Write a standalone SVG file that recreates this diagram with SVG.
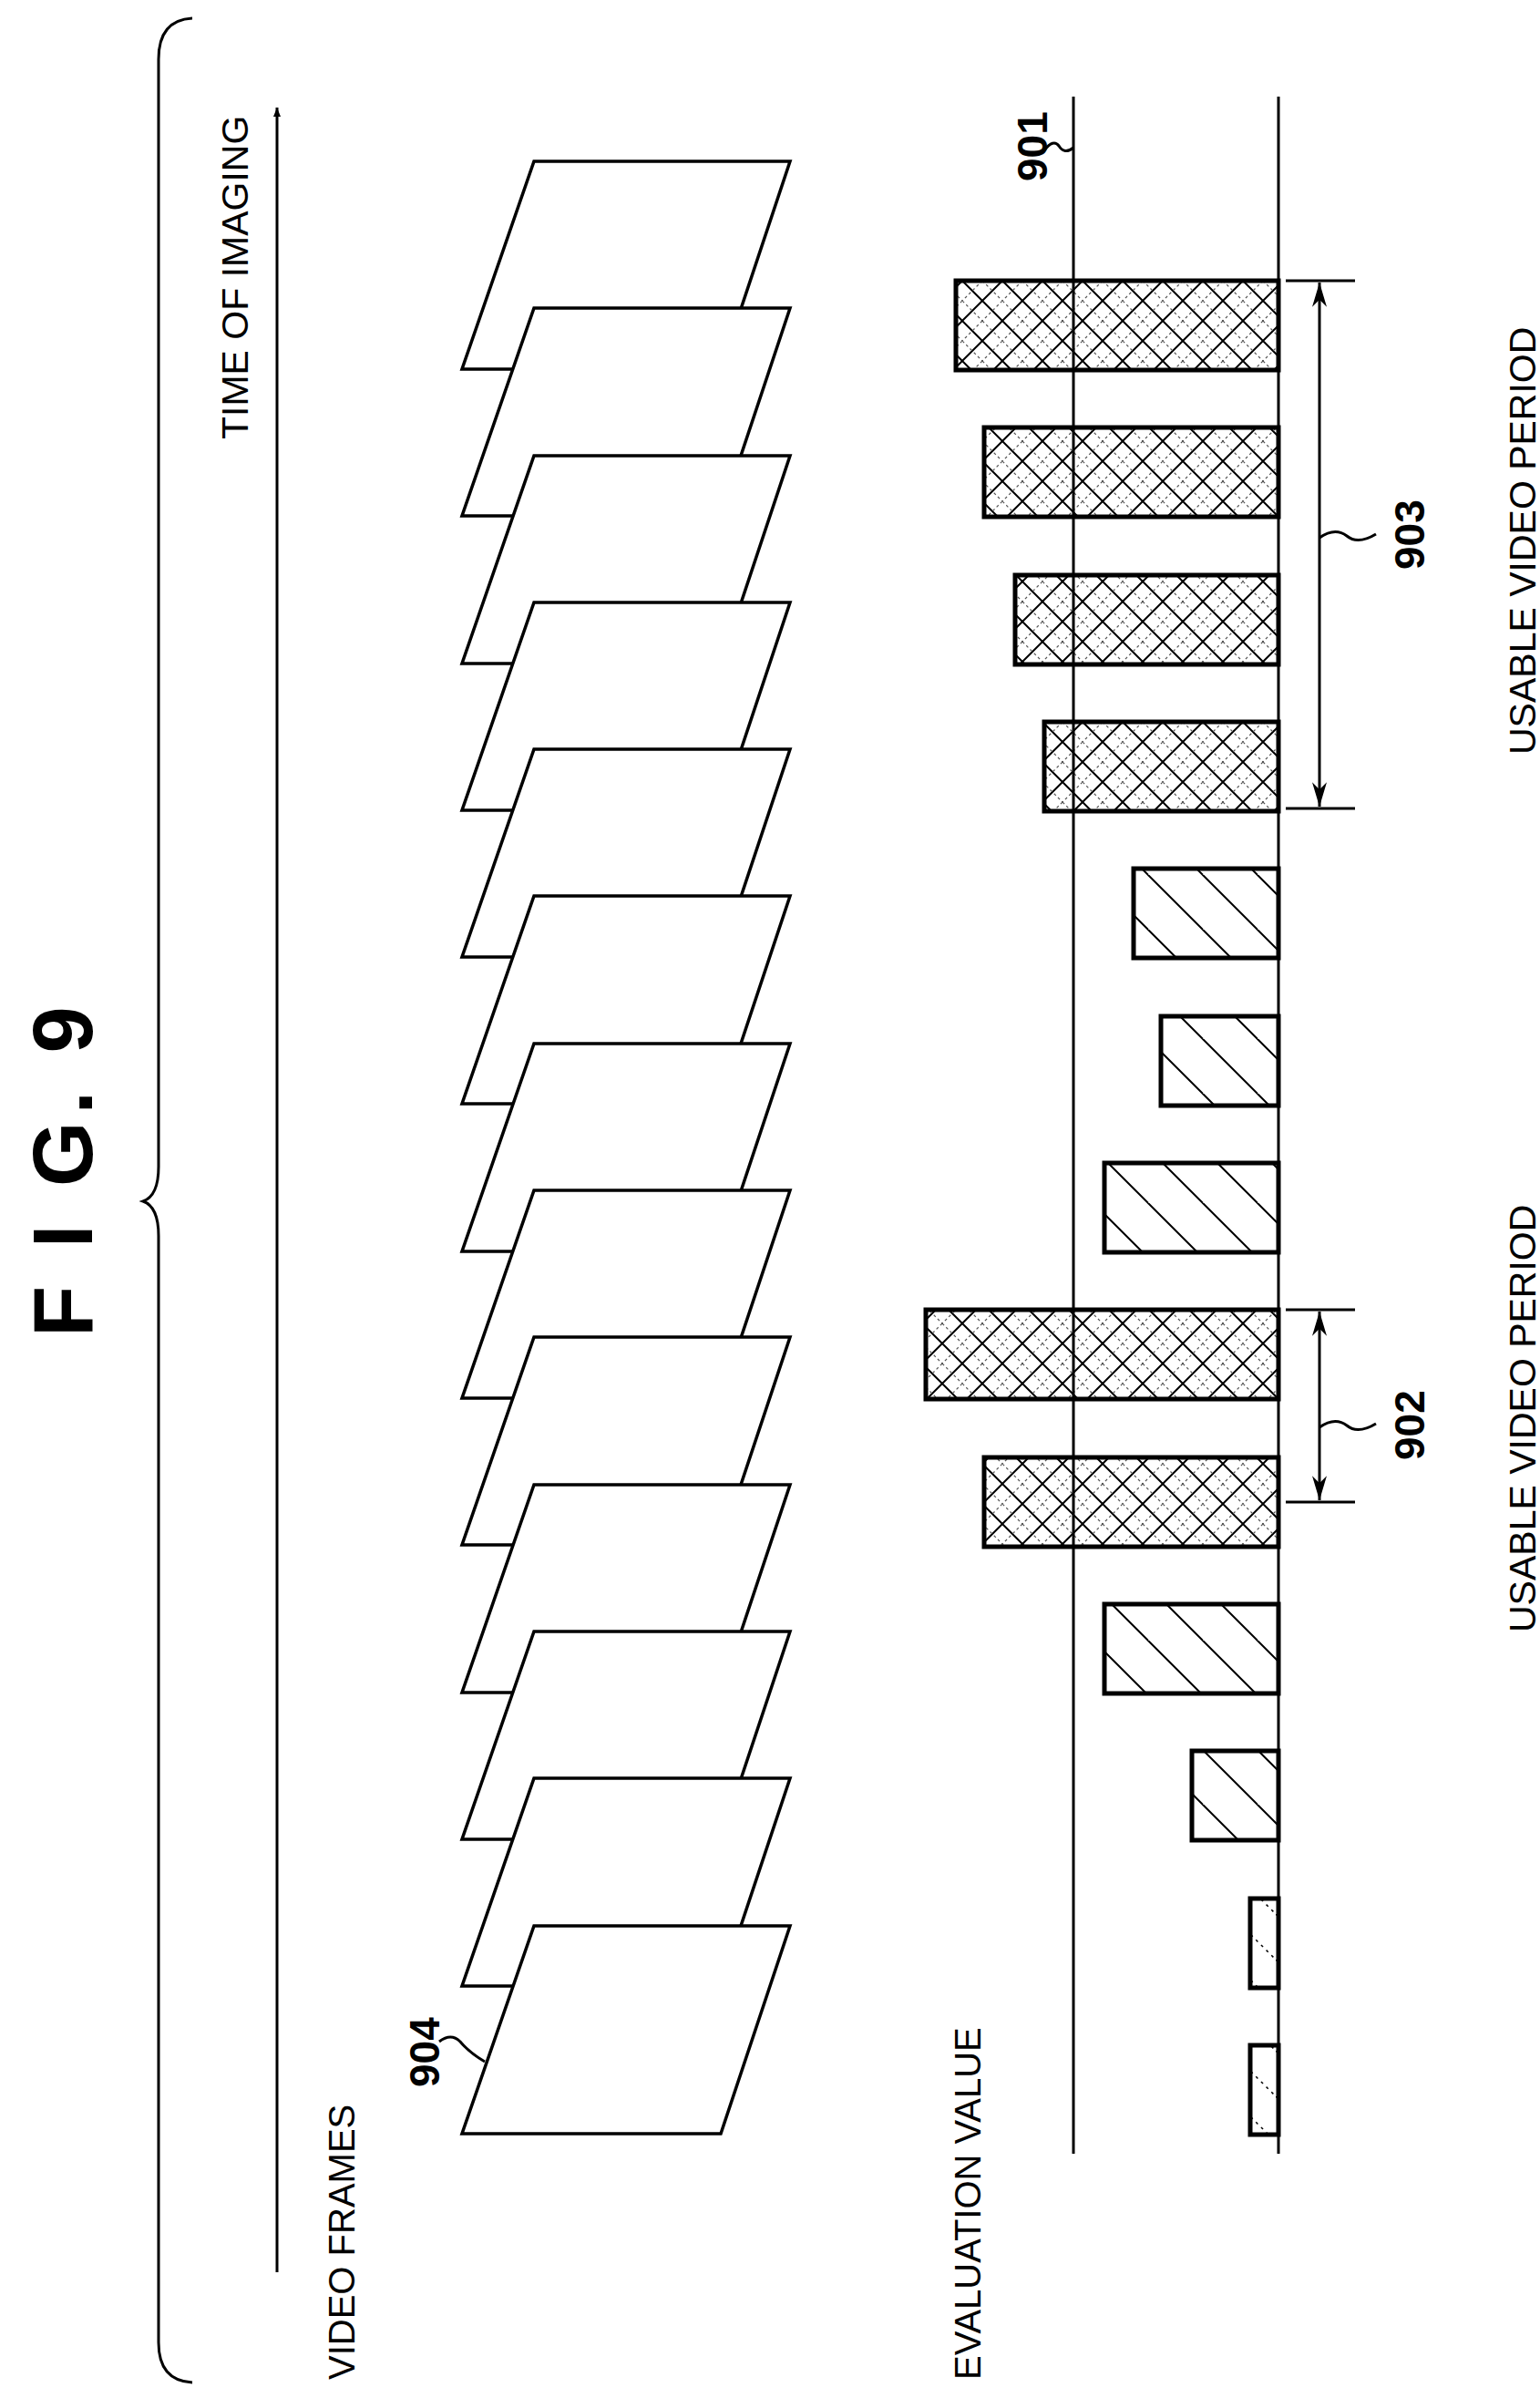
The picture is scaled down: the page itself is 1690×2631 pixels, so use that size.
<svg xmlns="http://www.w3.org/2000/svg" width="1690" height="2631" viewBox="0 0 1690 2631">
<style>
.t{font-family:"Liberation Sans",Arial,sans-serif;fill:#000}
.b{font-weight:bold}
.ln{stroke:#000;stroke-width:3;fill:none}
.fr{stroke:#000;stroke-width:3.5;fill:#fff}
.bar{stroke:#000;stroke-width:5}
</style>
<defs>
<pattern id="cross" patternUnits="userSpaceOnUse" width="44" height="44">
<rect width="44" height="44" fill="#fff"/>
<path d="M0 0L44 44M44 0L0 44" stroke="#000" stroke-width="2"/>
<path d="M22 0L44 22M0 22L22 44M22 0L0 22M44 22L22 44" stroke="#555" stroke-width="1.2" stroke-dasharray="3 3"/>
</pattern>
<pattern id="hatch" patternUnits="userSpaceOnUse" width="60" height="60">
<rect width="60" height="60" fill="#fff"/>
<path d="M0 0L60 60M-30 30L0 60M30 -30L90 30" stroke="#000" stroke-width="2"/>
</pattern>
<pattern id="light" patternUnits="userSpaceOnUse" width="50" height="50">
<rect width="50" height="50" fill="#fff"/>
<path d="M0 0L50 50" stroke="#000" stroke-width="1.5" stroke-dasharray="3 5"/>
</pattern>
<marker id="ah" viewBox="0 0 10 10" refX="10" refY="5" markerWidth="10" markerHeight="10" orient="auto-start-reverse" markerUnits="userSpaceOnUse"><path d="M0 1L10 5L0 9z" fill="#000"/></marker>
<marker id="ah2" viewBox="0 0 20 12" refX="20" refY="6" markerWidth="28" markerHeight="16" orient="auto-start-reverse" markerUnits="userSpaceOnUse"><path d="M0 0L20 6L0 12L6 6z" fill="#000"/></marker>
</defs>

<g id="title"><text class="t b" font-size="92" transform="translate(101,1467) rotate(-90)" letter-spacing="8">F I G. 9</text></g>
<g id="brace"><path class="ln" d="M211 20Q174 22 174 65L174 1280Q174 1312 157 1318Q174 1324 174 1356L174 2570Q174 2612 211 2614"/></g>

<g id="labels">
<text class="t" font-size="41" transform="translate(272,482) rotate(-90)">TIME OF IMAGING</text>
<text class="t" font-size="40" transform="translate(389,2611) rotate(-90)">VIDEO FRAMES</text>
<text class="t" font-size="40" transform="translate(1076,2611) rotate(-90)">EVALUATION VALUE</text>
<text class="t" font-size="41" transform="translate(1685,828) rotate(-90)">USABLE VIDEO PERIOD</text>
<text class="t" font-size="41" transform="translate(1685,1791) rotate(-90)">USABLE VIDEO PERIOD</text>
<text class="t b" font-size="46" transform="translate(1149,199) rotate(-90)">901</text>
<text class="t b" font-size="46" transform="translate(1563,625) rotate(-90)">903</text>
<text class="t b" font-size="46" transform="translate(1563,1602) rotate(-90)">902</text>
<text class="t b" font-size="46" transform="translate(482,2290) rotate(-90)">904</text>
</g>

<g id="frames">
<path class="fr" d="M586 177H867L791 405H507Z"/>
<path class="fr" d="M586 338H867L791 566H507Z"/>
<path class="fr" d="M586 500H867L791 728H507Z"/>
<path class="fr" d="M586 661H867L791 889H507Z"/>
<path class="fr" d="M586 822H867L791 1050H507Z"/>
<path class="fr" d="M586 983H867L791 1211H507Z"/>
<path class="fr" d="M586 1145H867L791 1373H507Z"/>
<path class="fr" d="M586 1306H867L791 1534H507Z"/>
<path class="fr" d="M586 1467H867L791 1695H507Z"/>
<path class="fr" d="M586 1629H867L791 1857H507Z"/>
<path class="fr" d="M586 1790H867L791 2018H507Z"/>
<path class="fr" d="M586 1951H867L791 2179H507Z"/>
<path class="fr" d="M586 2113H867L791 2341H507Z"/>
</g>

<g id="bars">
<rect class="bar" x="1049" y="308" width="354" height="98" fill="url(#cross)"/>
<rect class="bar" x="1080" y="469" width="323" height="98" fill="url(#cross)"/>
<rect class="bar" x="1114" y="631" width="289" height="98" fill="url(#cross)"/>
<rect class="bar" x="1146" y="792" width="257" height="98" fill="url(#cross)"/>
<rect class="bar" x="1244" y="953" width="159" height="98" fill="url(#hatch)"/>
<rect class="bar" x="1274" y="1115" width="129" height="98" fill="url(#hatch)"/>
<rect class="bar" x="1212" y="1276" width="191" height="98" fill="url(#hatch)"/>
<rect class="bar" x="1016" y="1437" width="387" height="98" fill="url(#cross)"/>
<rect class="bar" x="1080" y="1599" width="323" height="98" fill="url(#cross)"/>
<rect class="bar" x="1212" y="1760" width="191" height="98" fill="url(#hatch)"/>
<rect class="bar" x="1308" y="1921" width="95" height="98" fill="url(#hatch)"/>
<rect class="bar" x="1372" y="2083" width="31" height="98" fill="url(#light)"/>
<rect class="bar" x="1372" y="2244" width="31" height="98" fill="url(#light)"/>
</g>

<g id="connectors">
<line class="ln" x1="304" y1="2493" x2="304" y2="118" marker-end="url(#ah)"/>
<line class="ln" x1="1178" y1="106" x2="1178" y2="2363"/>
<line class="ln" x1="1403" y1="106" x2="1403" y2="2363"/>
<line class="ln" x1="1411" y1="308" x2="1487" y2="308"/>
<line class="ln" x1="1411" y1="887" x2="1487" y2="887"/>
<line class="ln" x1="1448" y1="310" x2="1448" y2="885" marker-start="url(#ah2)" marker-end="url(#ah2)"/>
<line class="ln" x1="1411" y1="1437" x2="1487" y2="1437"/>
<line class="ln" x1="1411" y1="1648" x2="1487" y2="1648"/>
<line class="ln" x1="1448" y1="1439" x2="1448" y2="1646" marker-start="url(#ah2)" marker-end="url(#ah2)"/>
<path class="ln" d="M1146 165Q1156 152 1162 160Q1168 170 1178 162"/>
<path class="ln" d="M1448 590Q1465 578 1478 588Q1490 598 1510 586"/>
<path class="ln" d="M1448 1566Q1465 1554 1478 1564Q1490 1574 1510 1562"/>
<path class="ln" d="M482 2240Q495 2230 505 2240Q515 2252 532 2262"/>
</g>
</svg>
